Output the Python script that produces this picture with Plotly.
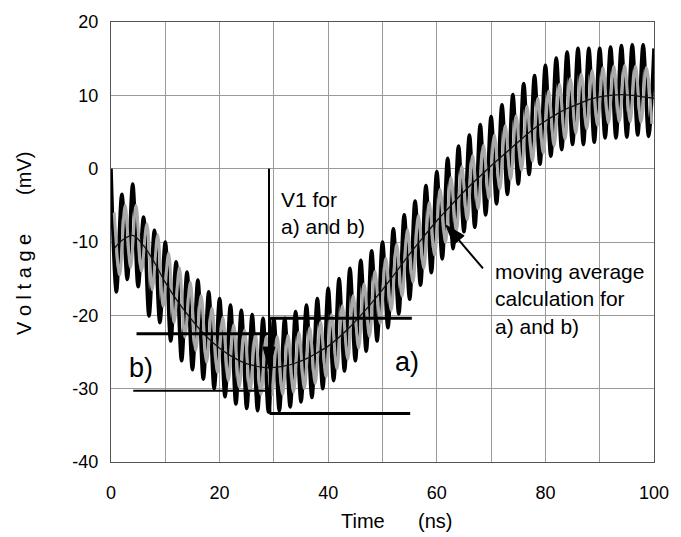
import plotly.graph_objects as go
import math

# ---------------- data ----------------
black_peak_t = list(range(0, 101, 2))
black_peak_v = [0.0, -3.5, -2.1, -6.6, -8.4, -10.0, -12.7, -14.1, -15.2, -16.8,
                -17.7, -18.6, -19.3, -19.9, -20.4, -20.5, -20.4, -19.5, -18.6, -17.7,
                -16.3, -15.0, -13.6, -12.5, -11.2, -10.0, -8.2, -6.3, -4.4, -2.3,
                -0.4, 1.4, 3.1, 4.6, 6.0, 7.1, 8.7, 10.1, 11.6, 12.7,
                14.1, 15.1, 15.9, 16.4, 16.4, 16.4, 16.6, 16.8, 16.9, 16.9, 16.4]
black_trough_t = list(range(1, 100, 2))
black_trough_v = [-16.8, -15.1, -16.1, -20.1, -21.0, -23.5, -26.2, -27.4, -28.7, -30.0,
                  -31.1, -32.1, -32.7, -33.0, -33.2, -33.0, -32.5, -31.8, -31.2, -30.0,
                  -28.9, -27.6, -26.2, -24.9, -23.5, -21.7, -19.8, -17.8, -15.9, -14.2,
                  -12.3, -10.9, -8.6, -8.0, -6.3, -4.8, -3.5, -2.1, -0.8, 0.6,
                  1.7, 2.6, 3.3, 3.3, 3.6, 4.2, 4.2, 4.3, 4.6, 4.4]

gray_peak_t = [0.6 + 2 * k for k in range(50)]
gray_peak_v = [-6.0, -5.0, -5.0, -7.5, -9.0, -11.5, -13.5, -15.5, -17.3, -19.0,
               -20.3, -21.3, -22.0, -22.6, -22.9, -22.9, -22.7, -22.3, -21.7, -20.9,
               -19.9, -18.7, -17.3, -15.7, -14.0, -12.2, -10.3, -8.3, -6.4, -4.6,
               -2.8, -1.2, 0.3, 1.8, 3.2, 4.6, 5.9, 7.2, 8.5, 9.6,
               10.6, 11.5, 12.3, 12.9, 13.4, 13.8, 14.0, 14.1, 14.0, 13.8]
gray_trough_t = [1.6 + 2 * k for k in range(50)]
gray_trough_v = [-14.5, -13.5, -14.0, -16.5, -18.8, -21.0, -23.0, -24.8, -26.4, -27.8,
                 -28.9, -29.8, -30.4, -30.8, -30.9, -30.8, -30.5, -30.0, -29.3, -28.4,
                 -27.3, -26.0, -24.5, -22.9, -21.1, -19.3, -17.4, -15.5, -13.6, -11.8,
                 -10.1, -8.5, -7.0, -5.5, -4.1, -2.8, -1.5, -0.2, 1.0, 2.1,
                 3.1, 4.0, 4.8, 5.4, 5.9, 6.2, 6.4, 6.4, 6.3, 6.1]

avg_t = [0.5, 2, 4, 6, 8, 10, 12, 14, 16, 18, 20, 22, 24, 26, 28, 30, 32, 34, 36, 38,
         40, 42, 44, 46, 48, 50, 52, 54, 56, 58, 60, 62, 64, 66, 68, 70, 72, 74, 76, 78,
         80, 82, 84, 86, 88, 90, 92, 94, 96, 98, 100]
avg_v = [-11.0, -9.8, -9.1, -10.5, -12.8, -15.5, -17.8, -19.8, -21.6, -23.2,
         -24.5, -25.5, -26.3, -26.8, -27.1, -27.1, -26.9, -26.5, -25.9, -25.1,
         -24.2, -23.0, -21.6, -20.0, -18.3, -16.5, -14.6, -12.6, -10.7, -8.9,
         -7.1, -5.5, -3.9, -2.4, -1.0, 0.4, 1.7, 3.0, 4.3, 5.5,
         6.5, 7.4, 8.2, 8.8, 9.4, 9.8, 10.0, 10.1, 10.0, 9.8, 9.6]

# level markers (time span, voltage)
b_upper = ([4.7, 30.2], -22.5)
b_lower = ([4.1, 29.5], -30.3)
a_upper = ([29.3, 55.4], -20.4)
a_lower = ([29.2, 55.1], -33.4)
a_vertical = (29.3, [-20.4, -33.4])
v1_arrow = ((29.1, 0.0), (29.1, -27.3))          # tail, tip
ma_arrow = ((68.5, -13.6), (61.7, -7.7))         # tail, tip

x_ticks = [0, 10, 20, 30, 40, 50, 60, 70, 80, 90, 100]
x_ticktext = ["0", "", "20", "", "40", "", "60", "", "80", "", "100"]
y_ticks = [-40, -30, -20, -10, 0, 10, 20]
y_ticktext = ["-40", "-30", "-20", "-10", "0", "10", "20"]

# ---------------- layout constants ----------------
W, H = 681, 537
ML, MR, MT, MB = 111, 21, 18, 75
PW, PH = W - ML - MR, H - MT - MB
XR, YR = (0, 100), (-40, 20)
DX = (XR[1] - XR[0]) / PW   # data units per pixel
DY = (YR[1] - YR[0]) / PH
FONT = "Arial, Liberation Sans, sans-serif"


def merge(t1, v1, t2, v2):
    pts = sorted(list(zip(t1, v1)) + list(zip(t2, v2)))
    return [p[0] for p in pts], [p[1] for p in pts]


bt, bv = merge(black_peak_t, black_peak_v, black_trough_t, black_trough_v)
gt, gv = merge(gray_peak_t, gray_peak_v, gray_trough_t, gray_trough_v)

fig = go.Figure()
fig.add_trace(go.Scatter(x=bt, y=bv, mode="lines",
                         line=dict(color="#000000", width=3.6, shape="spline", smoothing=1),
                         hoverinfo="skip"))
fig.add_trace(go.Scatter(x=gt, y=gv, mode="lines",
                         line=dict(color="#a9a9a9", width=3, shape="spline", smoothing=1),
                         hoverinfo="skip"))
fig.add_trace(go.Scatter(x=avg_t, y=avg_v, mode="lines",
                         line=dict(color="#111111", width=1.3, shape="spline", smoothing=1),
                         hoverinfo="skip"))

for (xs, yv), w in [(b_upper, 3), (b_lower, 2), (a_upper, 3), (a_lower, 3)]:
    fig.add_trace(go.Scatter(x=xs, y=[yv, yv], mode="lines",
                             line=dict(color="#000000", width=w), hoverinfo="skip"))
fig.add_trace(go.Scatter(x=[a_vertical[0]] * 2, y=a_vertical[1], mode="lines",
                         line=dict(color="#000000", width=2.5), hoverinfo="skip"))


def arrow(tail, tip, head_len_px, half_w_px, width):
    # direction in pixel space
    px = (tip[0] - tail[0]) / DX
    py = -(tip[1] - tail[1]) / DY
    L = math.hypot(px, py)
    ux, uy = px / L, py / L
    bx_px, by_px = -ux * head_len_px, -uy * head_len_px
    base = (tip[0] + bx_px * DX, tip[1] - by_px * DY)
    nx, ny = -uy, ux
    c1 = (base[0] + nx * half_w_px * DX, base[1] - ny * half_w_px * DY)
    c2 = (base[0] - nx * half_w_px * DX, base[1] + ny * half_w_px * DY)
    fig.add_trace(go.Scatter(x=[tail[0], base[0]], y=[tail[1], base[1]], mode="lines",
                             line=dict(color="#000000", width=width), hoverinfo="skip"))
    fig.add_shape(type="path",
                  path=f"M {c1[0]},{c1[1]} L {tip[0]},{tip[1]} L {c2[0]},{c2[1]} Z",
                  xref="x", yref="y", fillcolor="#000000", line=dict(color="#000000", width=1))


arrow(v1_arrow[0], v1_arrow[1], 22, 6, 2)
arrow(ma_arrow[0], ma_arrow[1], 20, 7, 2)

ann = [
    dict(x=31.0, y=-2.4, text="V1 for<br>a) and b)", xanchor="left", yanchor="top",
         align="left", font=dict(size=21)),
    dict(x=70.3, y=-12.2, text="moving average<br>calculation for<br>a) and b)",
         xanchor="left", yanchor="top", align="left", font=dict(size=21)),
    dict(x=5.5, y=-27.2, text="b)", xanchor="center", yanchor="middle", font=dict(size=27)),
    dict(x=54.5, y=-26.4, text="a)", xanchor="center", yanchor="middle", font=dict(size=27)),
]
for a in ann:
    a.update(xref="x", yref="y", showarrow=False)
    a["font"].update(family=FONT, color="#000000")
    fig.add_annotation(**a)

nb = "\u00a0"
fig.add_annotation(xref="paper", yref="paper", x=(400 - ML) / PW, y=(H - MB - 522) / PH,
                   text="Time" + nb * 6 + "(ns)", showarrow=False, xanchor="center", yanchor="middle",
                   font=dict(family=FONT, size=20, color="#000000"))
fig.add_annotation(xref="paper", yref="paper", x=(23 - ML) / PW, y=(H - MB - 241) / PH,
                   text=nb.join("Voltage") + nb * 7 + "(mV)", showarrow=False, textangle=-90,
                   xanchor="center", yanchor="middle",
                   font=dict(family=FONT, size=20, color="#000000"))

axis_common = dict(showgrid=True, gridcolor="#9a9a9a", gridwidth=1, zeroline=False,
                   showline=True, linecolor="#555555", linewidth=1.2, mirror=True,
                   ticks="", tickfont=dict(family=FONT, size=18, color="#000000"),
                   tickmode="array", fixedrange=True)
fig.update_layout(
    width=W, height=H, margin=dict(l=ML, r=MR, t=MT, b=MB),
    paper_bgcolor="white", plot_bgcolor="white", showlegend=False,
    xaxis=dict(range=list(XR), tickvals=x_ticks, ticktext=x_ticktext,
               ticklabelstandoff=14, **axis_common),
    yaxis=dict(range=list(YR), tickvals=y_ticks, ticktext=y_ticktext,
               ticklabelstandoff=8, **axis_common),
)

fig.write_html("out.html")
